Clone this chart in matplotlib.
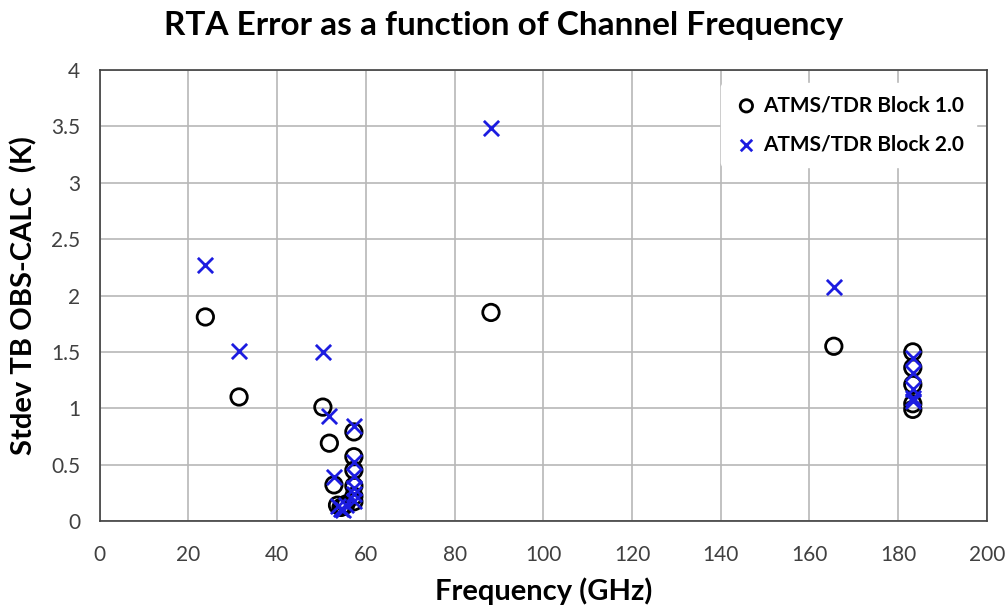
import matplotlib
matplotlib.use("Agg")
import matplotlib.pyplot as plt

# channel frequencies (GHz) and stdev of TB OBS-CALC (K)
freq_b1 = [23.8, 31.4, 50.3, 51.76, 52.8, 53.6, 54.4, 54.94, 55.5,
           57.29, 57.29, 57.29, 57.29, 57.29, 57.29,
           88.2, 165.5, 183.31, 183.31, 183.31, 183.31, 183.31]
stdev_b1 = [1.81, 1.10, 1.01, 0.69, 0.32, 0.14, 0.12, 0.13, 0.15,
            0.79, 0.57, 0.45, 0.31, 0.22, 0.17,
            1.85, 1.55, 1.50, 1.36, 1.21, 1.04, 0.99]

freq_b2 = [23.8, 31.4, 50.3, 51.76, 52.8, 53.6, 54.4, 54.94, 55.5,
           57.29, 57.29, 57.29, 57.29, 57.29, 57.29,
           88.2, 165.5, 183.31, 183.31, 183.31, 183.31, 183.31]
stdev_b2 = [2.27, 1.51, 1.50, 0.93, 0.39, 0.13, 0.11, 0.10, 0.14,
            0.84, 0.52, 0.40, 0.29, 0.24, 0.18,
            3.49, 2.08, 1.45, 1.31, 1.17, 1.09, 1.06]

plt.rcParams["font.family"] = ["Lato", "DejaVu Sans"]

fig = plt.figure(figsize=(10.08, 6.1), dpi=100)
ax = fig.add_axes([0.099, 0.146, 0.880, 0.739])

ax.scatter(freq_b1, stdev_b1, s=140, facecolors="none", edgecolors="black",
           linewidths=2, marker="o", label="ATMS/TDR Block 1.0", zorder=3)
ax.scatter(freq_b2, stdev_b2, s=120, color="#1c1ce0", linewidths=2,
           marker="x", label="ATMS/TDR Block 2.0", zorder=4)

ax.set_xlim(0, 200)
ax.set_ylim(0, 4)
ax.set_xticks(range(0, 201, 20))
ax.set_yticks([0, 0.5, 1, 1.5, 2, 2.5, 3, 3.5, 4])
ax.set_yticklabels(["0", "0.5", "1", "1.5", "2", "2.5", "3", "3.5", "4"])
ax.grid(True, color="#b8b8b8", linewidth=1.2)
ax.set_axisbelow(True)
ax.tick_params(labelsize=15, colors="#404040", length=0, pad=14)
ax.tick_params(axis="x", pad=17)
for s in ax.spines.values():
    s.set_color("#404040")
    s.set_linewidth(1.2)

# title is centred on the figure, not on the axes
fig.text(0.5, 0.958, "RTA Error as a function of Channel Frequency", fontsize=24,
         fontweight="bold", ha="center", va="center")
ax.set_xlabel("Frequency (GHz)", fontsize=21, fontweight="bold", labelpad=9)
ax.set_ylabel("Stdev TB OBS-CALC  (K)", fontsize=21, fontweight="bold", labelpad=10)

leg = ax.legend(loc="upper right", bbox_to_anchor=(1.0, 0.995), frameon=True,
                fontsize=15, handletextpad=0.2, borderpad=0.6, labelspacing=0.9,
                markerscale=0.75, handlelength=1.2)
leg.get_frame().set_edgecolor("white")
leg.get_frame().set_facecolor("white")
leg.get_frame().set_alpha(1)
for t in leg.get_texts():
    t.set_fontweight("bold")

fig.savefig("out.png", dpi=100)
